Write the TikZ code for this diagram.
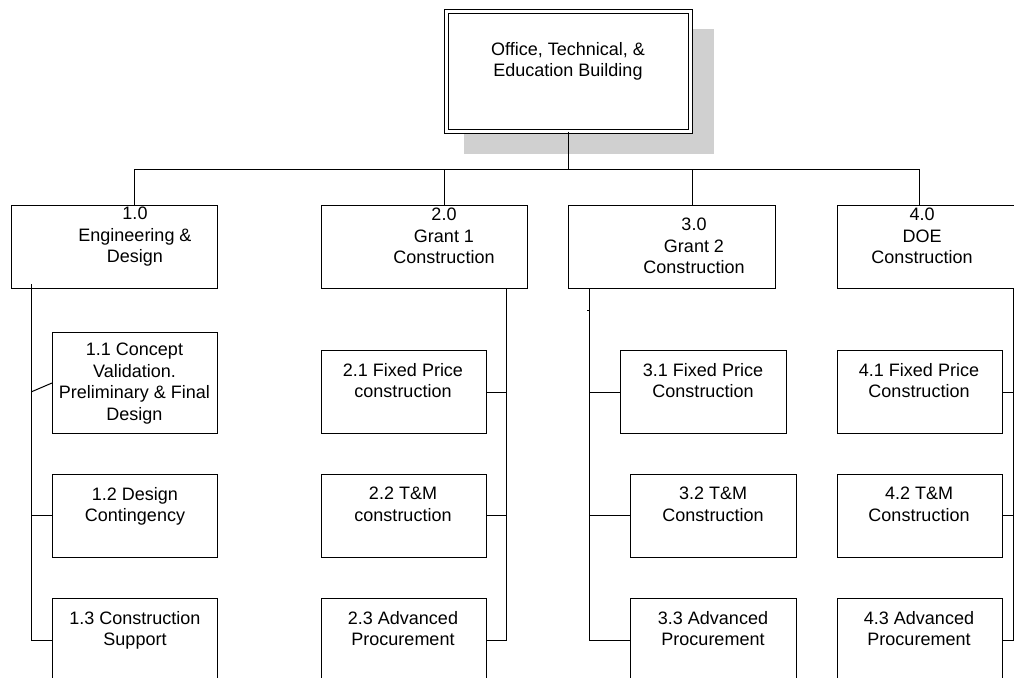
\documentclass[tikz,border=0pt]{standalone}
\usepackage{fontspec}
\setmainfont{Liberation Sans}
\definecolor{shadowgray}{RGB}{208,208,208}
\tikzset{
  box/.style={draw=black, line width=1pt, rectangle, inner sep=0pt, anchor=north west},
  lbl/.style={inner sep=0pt, outer sep=0pt, anchor=north, align=center,
    font=\fontsize{18}{21.5}\selectfont, text=black},
  conn/.style={draw=black, line width=1pt},
}
\begin{document}
\begin{tikzpicture}[x=1pt,y=-1pt]
\useasboundingbox (0,0) rectangle (1014,677);
% shadow and root box
\fill[shadowgray] (464,29) rectangle (714,154);
\node[draw=black, line width=1pt, double=white, double distance=3pt, fill=white,
      minimum width=244pt, minimum height=120pt, inner sep=0pt] (top) at (568.3,71.2) {};
\node[lbl] (ttop) at (568,42) {Office, Technical, \&\\Education Building};

% level 1 boxes
\node[box, minimum width=206pt, minimum height=83pt] (b10) at (11,205) {};
\node[box, minimum width=206pt, minimum height=83pt] (b20) at (321,205) {};
\node[box, minimum width=207pt, minimum height=83pt] (b30) at (568,205) {};
\node[box, minimum width=206pt, minimum height=83pt] (b40) at (837,205) {};

% level 2 boxes
\node[box, minimum width=165pt, minimum height=101pt] (b11) at (52,332) {};
\node[box, minimum width=165pt, minimum height=83pt] (b12) at (52,473.5) {};
\node[box, minimum width=165pt, minimum height=83pt] (b13) at (52,598) {};
\node[box, minimum width=165pt, minimum height=83pt] (b21) at (321,350) {};
\node[box, minimum width=165pt, minimum height=83pt] (b22) at (321,473.5) {};
\node[box, minimum width=165pt, minimum height=83pt] (b23) at (321,598) {};
\node[box, minimum width=166pt, minimum height=83pt] (b31) at (620,350) {};
\node[box, minimum width=166pt, minimum height=83pt] (b32) at (630,473.5) {};
\node[box, minimum width=166pt, minimum height=83pt] (b33) at (630,598) {};
\node[box, minimum width=165pt, minimum height=83pt] (b41) at (837,350) {};
\node[box, minimum width=165pt, minimum height=83pt] (b42) at (837,473.5) {};
\node[box, minimum width=165pt, minimum height=83pt] (b43) at (837,598) {};

% labels
\node[lbl] (t10) at (135,207) {1.0\\Engineering \&\\Design};
\node[lbl] (t20) at (444,208) {2.0\\Grant 1\\Construction};
\node[lbl] (t30) at (694,218) {3.0\\Grant 2\\Construction};
\node[lbl] (t40) at (922,208) {4.0\\DOE\\Construction};
\node[lbl] (t11) at (134.5,343) {1.1 Concept\\Validation.\\Preliminary \& Final\\Design};
\node[lbl] (t12) at (135,487) {1.2 Design\\Contingency};
\node[lbl] (t13) at (135,611) {1.3 Construction\\Support};
\node[lbl] (t21) at (403,363) {2.1 Fixed Price\\construction};
\node[lbl] (t22) at (403,487) {2.2 T\&M\\construction};
\node[lbl] (t23) at (403,611) {2.3 Advanced\\Procurement};
\node[lbl] (t31) at (703,363) {3.1 Fixed Price\\Construction};
\node[lbl] (t32) at (713,487) {3.2 T\&M\\Construction};
\node[lbl] (t33) at (713,611) {3.3 Advanced\\Procurement};
\node[lbl] (t41) at (919,363) {4.1 Fixed Price\\Construction};
\node[lbl] (t42) at (919,487) {4.2 T\&M\\Construction};
\node[lbl] (t43) at (919,611) {4.3 Advanced\\Procurement};

% bus
\coordinate (bus) at (568.3,169);
\coordinate (j1) at (134.3,169);
\coordinate (j2) at (444.3,169);
\coordinate (j3) at (692.3,169);
\coordinate (j4) at (919.3,169);
\draw[conn] (top.south) -- (bus);
\draw[conn] (j1) -- (j4);
\draw[conn] (j1) -- (j1 |- b10.north);
\draw[conn] (j2) -- (j2 |- b20.north);
\draw[conn] (j3) -- (j3 |- b30.north);
\draw[conn] (j4) -- (j4 |- b40.north);

% spine 1
\coordinate (s1) at (31.7,284.3);
\coordinate (k11) at (31.7,391.7);
\draw[conn] (s1) -- (s1 |- b13.west) -- (b13.west);
\draw[conn] (s1 |- b12.west) -- (b12.west);
\draw[conn] (k11) -- (b11.west);

% spine 2
\coordinate (s2) at (b20.south -| 506.7,0);
\draw[conn] (s2) -- (s2 |- b23.east) -- (b23.east);
\draw[conn] (s2 |- b22.east) -- (b22.east);
\draw[conn] (s2 |- b21.east) -- (b21.east);

% spine 3
\coordinate (s3) at (b30.south -| 589,0);
\draw[conn] (s3) -- (s3 |- b33.west) -- (b33.west);
\draw[conn] (s3 |- b32.west) -- (b32.west);
\draw[conn] (s3 |- b31.west) -- (b31.west);
\coordinate (tick) at (589,310);
\draw[conn] (tick) -- ++(-2,0);

% spine 4
\coordinate (s4) at (b40.south -| 1013,0);
\draw[conn] (s4) -- (s4 |- b43.east) -- (b43.east);
\draw[conn] (s4 |- b42.east) -- (b42.east);
\draw[conn] (s4 |- b41.east) -- (b41.east);
\end{tikzpicture}
\end{document}
